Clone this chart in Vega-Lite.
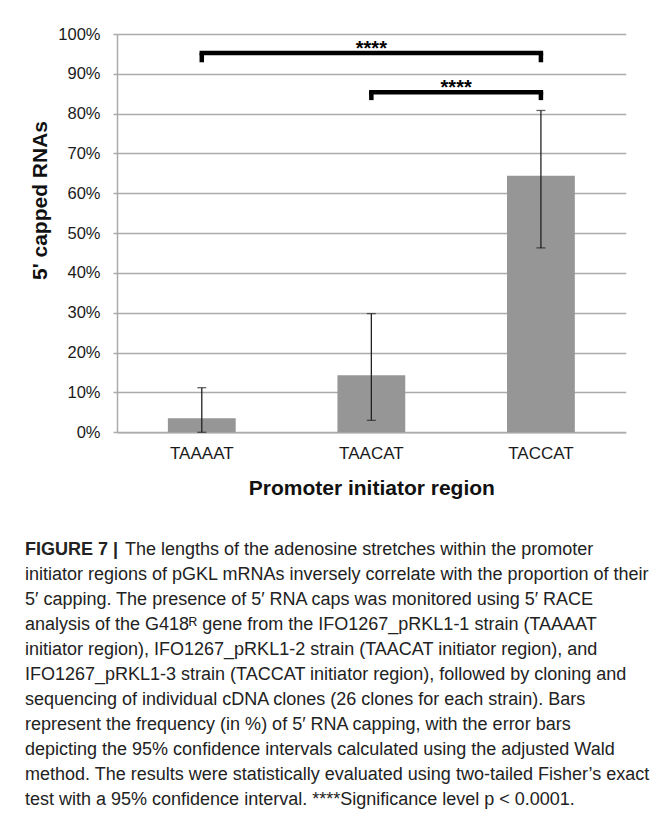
{
  "$schema": "https://vega.github.io/schema/vega-lite/v6.json",
  "width": 508.7,
  "height": 398.3,
  "autosize": {"type": "none"},
  "padding": {"left": 117, "top": 34, "right": 31.3, "bottom": 389.7},
  "background": "white",
  "config": {
    "view": {"stroke": null},
    "font": "Liberation Sans"
  },
  "datasets": {
    "bars": [
      {"region": "TAAAAT", "capped": 0.035, "lo": 0.0, "hi": 0.112},
      {"region": "TAACAT", "capped": 0.143, "lo": 0.030, "hi": 0.298},
      {"region": "TACCAT", "capped": 0.644, "lo": 0.463, "hi": 0.808}
    ],
    "brackets": [
      {"left": "TAAAAT", "right": "TACCAT", "top": 0.952, "tip": 0.929, "stars": "****"},
      {"left": "TAACAT", "right": "TACCAT", "top": 0.854, "tip": 0.834, "stars": "****"}
    ]
  },
  "title": {
    "text": "FIGURE 7 |",
    "subtitle": [
      "\u200d\u00a0\u00a0\u00a0\u00a0\u00a0\u00a0\u00a0\u00a0\u00a0\u00a0\u00a0\u00a0\u00a0\u00a0\u00a0\u00a0\u00a0\u00a0\u00a0\u00a0The lengths of the adenosine stretches within the promoter",
      "initiator regions of pGKL mRNAs inversely correlate with the proportion of their",
      "5′ capping. The presence of 5′ RNA caps was monitored using 5′ RACE",
      "analysis of the G418ᴿ gene from the IFO1267_pRKL1-1 strain (TAAAAT",
      "initiator region), IFO1267_pRKL1-2 strain (TAACAT initiator region), and",
      "IFO1267_pRKL1-3 strain (TACCAT initiator region), followed by cloning and",
      "sequencing of individual cDNA clones (26 clones for each strain). Bars",
      "represent the frequency (in %) of 5′ RNA capping, with the error bars",
      "depicting the 95% confidence intervals calculated using the adjusted Wald",
      "method. The results were statistically evaluated using two-tailed Fisher’s exact",
      "test with a 95% confidence interval. ****Significance level p < 0.0001."
    ],
    "orient": "bottom",
    "anchor": "start",
    "frame": "group",
    "dx": -92,
    "offset": 43,
    "font": "Liberation Sans",
    "fontSize": 18,
    "fontWeight": "bold",
    "color": "#222222",
    "subtitleFont": "Liberation Sans",
    "subtitleFontSize": 18,
    "subtitleFontWeight": "normal",
    "subtitleColor": "#222222",
    "subtitleLineHeight": 25,
    "subtitlePadding": -18,
    "limit": 0
  },
  "resolve": {"axis": {"x": "independent", "y": "independent"}},
  "layer": [
    {
      "data": {"name": "bars"},
      "mark": {"type": "bar", "color": "#969696"},
      "encoding": {
        "x": {
          "field": "region",
          "type": "nominal",
          "scale": {"paddingInner": 0.6, "paddingOuter": 0.3},
          "axis": {
            "title": "Promoter initiator region",
            "labelAngle": 0,
            "ticks": false,
            "labelFontSize": 17,
            "labelColor": "#1a1a1a",
            "labelPadding": 13,
            "domainColor": "#ababab",
            "domainWidth": 1.5,
            "titleFontSize": 21,
            "titleFontWeight": "bold",
            "titleColor": "#111111",
            "titlePadding": 16
          }
        },
        "y": {
          "field": "capped",
          "type": "quantitative",
          "scale": {"domain": [0, 1], "nice": false},
          "axis": {
            "title": "5' capped RNAs",
            "values": [0, 0.1, 0.2, 0.3, 0.4, 0.5, 0.6, 0.7, 0.8, 0.9, 1],
            "format": ".0%",
            "labelOverlap": false,
            "grid": true,
            "gridColor": "#ababab",
            "gridWidth": 1.5,
            "domainColor": "#ababab",
            "domainWidth": 1.5,
            "tickColor": "#ababab",
            "tickWidth": 1.5,
            "tickSize": 4,
            "labelFontSize": 16.5,
            "labelColor": "#1a1a1a",
            "labelPadding": 13,
            "titleFontSize": 21,
            "titleFontWeight": "bold",
            "titleColor": "#111111",
            "titlePadding": 7,
            "titleY": 166
          }
        }
      }
    },
    {
      "data": {"name": "bars"},
      "mark": {
        "type": "errorbar",
        "ticks": {"size": 9, "thickness": 1.3, "color": "#222222"},
        "rule": {"strokeWidth": 1.3, "color": "#222222"}
      },
      "encoding": {
        "x": {"field": "region", "type": "nominal", "axis": null},
        "y": {"field": "lo", "type": "quantitative", "axis": null},
        "y2": {"field": "hi"}
      }
    },
    {
      "data": {"name": "brackets"},
      "mark": {"type": "rule", "color": "black", "strokeWidth": 4.5, "strokeCap": "square"},
      "encoding": {
        "x": {"field": "left", "type": "nominal", "axis": null},
        "x2": {"field": "right"},
        "y": {"field": "top", "type": "quantitative", "axis": null}
      }
    },
    {
      "data": {"name": "brackets"},
      "mark": {"type": "rule", "color": "black", "strokeWidth": 4.5},
      "encoding": {
        "x": {"field": "left", "type": "nominal", "axis": null},
        "y": {"field": "top", "type": "quantitative", "axis": null},
        "y2": {"field": "tip"}
      }
    },
    {
      "data": {"name": "brackets"},
      "mark": {"type": "rule", "color": "black", "strokeWidth": 4.5},
      "encoding": {
        "x": {"field": "right", "type": "nominal", "axis": null},
        "y": {"field": "top", "type": "quantitative", "axis": null},
        "y2": {"field": "tip"}
      }
    },
    {
      "data": {"name": "brackets"},
      "transform": [{"filter": "datum.left == 'TAAAAT'"}],
      "mark": {"type": "text", "font": "Liberation Sans", "fontSize": 20, "fontWeight": "bold", "color": "black", "baseline": "alphabetic", "dy": 2},
      "encoding": {
        "x": {"field": "left", "type": "nominal", "bandPosition": 3.0, "axis": null},
        "y": {"field": "top", "type": "quantitative", "axis": null},
        "text": {"field": "stars"}
      }
    },
    {
      "data": {"name": "brackets"},
      "transform": [{"filter": "datum.left == 'TAACAT'"}],
      "mark": {"type": "text", "font": "Liberation Sans", "fontSize": 20, "fontWeight": "bold", "color": "black", "baseline": "alphabetic", "dy": 2},
      "encoding": {
        "x": {"field": "left", "type": "nominal", "bandPosition": 1.75, "axis": null},
        "y": {"field": "top", "type": "quantitative", "axis": null},
        "text": {"field": "stars"}
      }
    }
  ]
}
